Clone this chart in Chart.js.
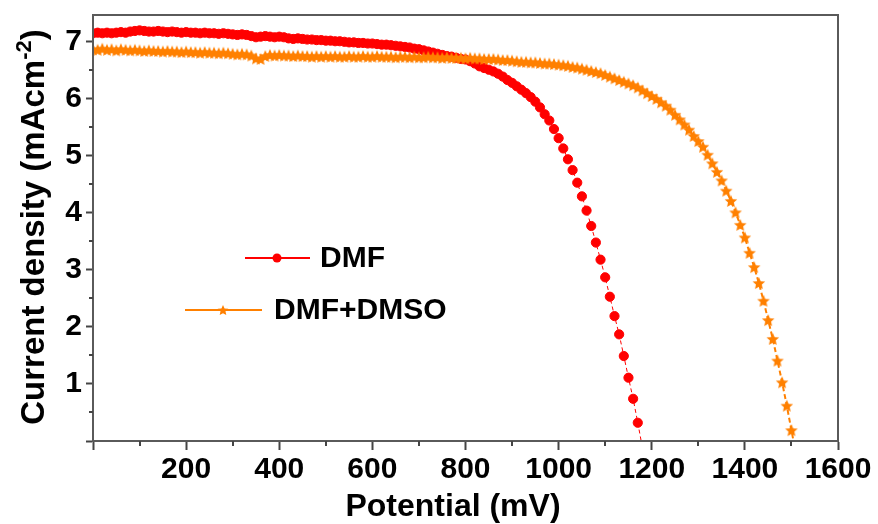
<!DOCTYPE html>
<html>
<head>
<meta charset="utf-8">
<script src="https://cdn.jsdelivr.net/npm/chart.js@4.4.0/dist/chart.umd.min.js"></script>
<style>
  html, body { margin: 0; padding: 0; background: #fff; }
  #wrap { width: 878px; height: 524px; }
</style>
</head>
<body>
<div id="wrap"><canvas id="jv" width="878" height="524"></canvas></div>
<script>
// Applied potential sweep (mV)
const potentialMV = [
  0,10,20,30,40,50,60,70,80,90,
  100,110,120,130,140,150,160,170,180,190,
  200,210,220,230,240,250,260,270,280,290,
  300,310,320,330,340,350,360,370,380,390,
  400,410,420,430,440,450,460,470,480,490,
  500,510,520,530,540,550,560,570,580,590,
  600,610,620,630,640,650,660,670,680,690,
  700,710,720,730,740,750,760,770,780,790,
  800,810,820,830,840,850,860,870,880,890,
  900,910,920,930,940,950,960,970,980,990,
  1000,1010,1020,1030,1040,1050,1060,1070,1080,1090,
  1100,1110,1120,1130,1140,1150,1160,1170,1180,1190,
  1200,1210,1220,1230,1240,1250,1260,1270,1280,1290,
  1300,1310,1320,1330,1340,1350,1360,1370,1380,1390,
  1400,1410,1420,1430,1440,1450,1460,1470,1480,1490,
  1500,1510
];

// Current density (mA cm^-2), DMF-processed film
const dmfCurrent = [
  7.15,7.16,7.15,7.16,7.15,7.16,7.17,7.16,7.18,7.19,
  7.20,7.19,7.18,7.18,7.19,7.18,7.17,7.18,7.17,7.16,
  7.17,7.16,7.16,7.15,7.16,7.15,7.15,7.14,7.15,7.14,
  7.13,7.12,7.13,7.12,7.10,7.08,7.09,7.10,7.09,7.08,
  7.09,7.08,7.06,7.05,7.06,7.05,7.04,7.04,7.03,7.03,
  7.02,7.02,7.01,7.01,7.00,6.99,6.99,6.98,6.98,6.97,
  6.97,6.96,6.95,6.95,6.94,6.93,6.92,6.91,6.90,6.88,
  6.87,6.85,6.83,6.81,6.79,6.77,6.75,6.74,6.72,6.70,
  6.69,6.66,6.62,6.57,6.54,6.51,6.48,6.44,6.39,6.33,
  6.28,6.22,6.16,6.10,6.03,5.95,5.85,5.73,5.62,5.47,
  5.31,5.13,4.94,4.75,4.53,4.29,4.04,3.77,3.48,3.18,
  2.87,2.53,2.19,1.87,1.49,1.11,0.74,0.32,-0.12
];

// Current density (mA cm^-2), DMF+DMSO-processed film
const dmfDmsoCurrent = [
  6.87,6.86,6.88,6.86,6.87,6.85,6.87,6.86,6.85,6.86,
  6.85,6.84,6.85,6.84,6.84,6.83,6.84,6.83,6.83,6.82,
  6.83,6.82,6.82,6.81,6.82,6.81,6.81,6.80,6.81,6.80,
  6.79,6.78,6.79,6.78,6.76,6.71,6.70,6.75,6.77,6.76,
  6.77,6.76,6.76,6.75,6.76,6.75,6.75,6.74,6.75,6.74,
  6.75,6.74,6.75,6.74,6.74,6.75,6.74,6.74,6.75,6.74,
  6.74,6.75,6.74,6.74,6.74,6.73,6.74,6.74,6.73,6.74,
  6.73,6.73,6.74,6.73,6.73,6.72,6.73,6.72,6.72,6.72,
  6.71,6.72,6.71,6.71,6.70,6.70,6.70,6.69,6.68,6.68,
  6.67,6.66,6.65,6.65,6.64,6.64,6.63,6.62,6.62,6.61,
  6.60,6.59,6.58,6.56,6.55,6.53,6.51,6.49,6.47,6.45,
  6.42,6.39,6.36,6.33,6.30,6.27,6.24,6.20,6.15,6.10,
  6.05,6.00,5.94,5.88,5.81,5.72,5.64,5.55,5.46,5.35,
  5.26,5.16,5.02,4.87,4.72,4.57,4.39,4.21,4.01,3.79,
  3.57,3.30,3.05,2.77,2.46,2.12,1.79,1.41,1.03,0.62,
  0.19,-0.24
];

const seriesNames = ['DMF', 'DMF+DMSO'];
const seriesColors = ['#FF0000', '#FF8000'];

const xMajorTicks = [0, 200, 400, 600, 800, 1000, 1200, 1400, 1600];
const xMinorTicks = [100, 300, 500, 700, 900, 1100, 1300, 1500];
const yMajorTicks = [0, 1, 2, 3, 4, 5, 6, 7];
const yMinorTicks = [0.5, 1.5, 2.5, 3.5, 4.5, 5.5, 6.5];

const xTitle = 'Potential (mV)';
const yTitleMain = 'Current density (mAcm';
const yTitleSup = '-2';
const yTitleEnd = ')';

const FONT = '"Liberation Sans", Arial, sans-serif';
const AXIS_COLOR = '#444';

// filled five-pointed star used as the point marker
function starSprite(r, color) {
  const size = Math.ceil(r * 2 + 2);
  const c = document.createElement('canvas');
  c.width = size; c.height = size;
  const g = c.getContext('2d');
  g.fillStyle = color;
  g.beginPath();
  for (let i = 0; i < 10; i++) {
    const a = -Math.PI / 2 + i * Math.PI / 5;
    const rr = (i % 2) ? r * 0.47 : r;
    g.lineTo(size / 2 + rr * Math.cos(a), size / 2 + rr * Math.sin(a) + r * 0.1);
  }
  g.closePath();
  g.fill();
  return c;
}
const starMarker = starSprite(6.6, seriesColors[1]);
const starLegend = starSprite(5.6, seriesColors[1]);

const toPoints = (ys) => ys.map((y, i) => ({ x: potentialMV[i], y }));

// frame, minor ticks, axis titles and the in-plot legend
const decorations = {
  id: 'decorations',
  afterDraw(chart) {
    const { ctx, chartArea: a, scales } = chart;
    ctx.save();

    // box frame
    ctx.strokeStyle = '#5a5a5a';
    ctx.lineWidth = 2;
    ctx.strokeRect(a.left, a.top, a.right - a.left, a.bottom - a.top);

    // minor ticks
    ctx.strokeStyle = AXIS_COLOR;
    ctx.lineWidth = 2;
    ctx.beginPath();
    xMinorTicks.forEach(v => {
      const px = Math.round(scales.x.getPixelForValue(v));
      ctx.moveTo(px, a.bottom); ctx.lineTo(px, a.bottom + 5);
    });
    yMinorTicks.forEach(v => {
      const py = Math.round(scales.y.getPixelForValue(v));
      ctx.moveTo(a.left, py); ctx.lineTo(a.left - 4, py);
    });
    ctx.stroke();

    // x title
    ctx.fillStyle = '#000';
    ctx.font = 'bold 32px ' + FONT;
    ctx.textAlign = 'center';
    ctx.textBaseline = 'alphabetic';
    ctx.fillText(xTitle, 453, 516);

    // y title with superscript
    ctx.save();
    ctx.translate(44, (a.top + a.bottom) / 2 - 1);
    ctx.rotate(-Math.PI / 2);
    const bigFont = 'bold 33px ' + FONT;
    const supFont = 'bold 22px ' + FONT;
    ctx.font = bigFont;
    const w1 = ctx.measureText(yTitleMain).width;
    const w3 = ctx.measureText(yTitleEnd).width;
    ctx.font = supFont;
    const w2 = ctx.measureText(yTitleSup).width;
    const x0 = -(w1 + w2 + w3) / 2;
    ctx.textAlign = 'left';
    ctx.font = bigFont;
    ctx.fillText(yTitleMain, x0, 0);
    ctx.font = supFont;
    ctx.fillText(yTitleSup, x0 + w1, -13);
    ctx.font = bigFont;
    ctx.fillText(yTitleEnd, x0 + w1 + w2, 0);
    ctx.restore();

    // legend
    ctx.textAlign = 'left';
    ctx.textBaseline = 'middle';
    ctx.font = 'bold 30px ' + FONT;
    // DMF
    ctx.strokeStyle = seriesColors[0];
    ctx.lineWidth = 2;
    ctx.beginPath(); ctx.moveTo(245, 258); ctx.lineTo(310, 258); ctx.stroke();
    ctx.fillStyle = seriesColors[0];
    ctx.beginPath(); ctx.arc(277, 258, 4.5, 0, Math.PI * 2); ctx.fill();
    ctx.fillStyle = '#000';
    ctx.fillText(seriesNames[0], 320, 259);
    // DMF+DMSO
    ctx.strokeStyle = seriesColors[1];
    ctx.beginPath(); ctx.moveTo(185, 310); ctx.lineTo(262, 310); ctx.stroke();
    ctx.drawImage(starLegend, 223 - starLegend.width / 2, 310 - starLegend.height / 2);
    ctx.fillStyle = '#000';
    ctx.fillText(seriesNames[1], 274, 311);

    ctx.restore();
  }
};

new Chart(document.getElementById('jv'), {
  type: 'line',
  data: {
    datasets: [
      {
        label: seriesNames[0],
        data: toPoints(dmfCurrent),
        borderColor: seriesColors[0],
        backgroundColor: seriesColors[0],
        borderWidth: 1,
        borderDash: [4, 3],
        pointStyle: 'circle',
        pointRadius: 4.6,
        pointBorderWidth: 1,
        pointBackgroundColor: seriesColors[0],
        pointBorderColor: seriesColors[0],
        tension: 0,
        order: 1
      },
      {
        label: seriesNames[1],
        data: toPoints(dmfDmsoCurrent),
        borderColor: seriesColors[1],
        backgroundColor: seriesColors[1],
        borderWidth: 2,
        borderDash: [5, 3],
        pointStyle: starMarker,
        pointRadius: 6,
        tension: 0,
        order: 0
      }
    ]
  },
  options: {
    responsive: false,
    animation: false,
    devicePixelRatio: 1,
    layout: { padding: { top: 15, right: 40, left: 0, bottom: 0 } },
    plugins: { legend: { display: false }, tooltip: { enabled: false } },
    scales: {
      x: {
        type: 'linear',
        min: 0,
        max: 1600,
        afterBuildTicks: s => { s.ticks = xMajorTicks.map(v => ({ value: v })); },
        afterFit: s => { s.height = 83; s.paddingLeft = 0; s.paddingRight = 0; },
        ticks: {
          callback: v => (v === 0 ? '' : String(v)),
          color: '#000',
          font: { family: 'Liberation Sans', size: 30, weight: 'bold' },
          padding: 2,
          maxRotation: 0,
          autoSkip: false
        },
        grid: { drawOnChartArea: false, drawTicks: true, tickLength: 9, tickColor: AXIS_COLOR, tickWidth: 2 },
        border: { color: AXIS_COLOR, width: 2 }
      },
      y: {
        type: 'linear',
        min: 0,
        max: 7.47,
        afterBuildTicks: s => { s.ticks = yMajorTicks.map(v => ({ value: v })); },
        afterFit: s => { s.width = 93; s.paddingTop = 0; s.paddingBottom = 0; },
        ticks: {
          callback: v => (v === 0 ? '' : String(v)),
          color: '#000',
          font: { family: 'Liberation Sans', size: 30, weight: 'bold' },
          padding: 4,
          autoSkip: false
        },
        grid: { drawOnChartArea: false, drawTicks: true, tickLength: 7, tickColor: AXIS_COLOR, tickWidth: 2 },
        border: { color: AXIS_COLOR, width: 2 }
      }
    }
  },
  plugins: [decorations]
});
</script>
</body>
</html>
